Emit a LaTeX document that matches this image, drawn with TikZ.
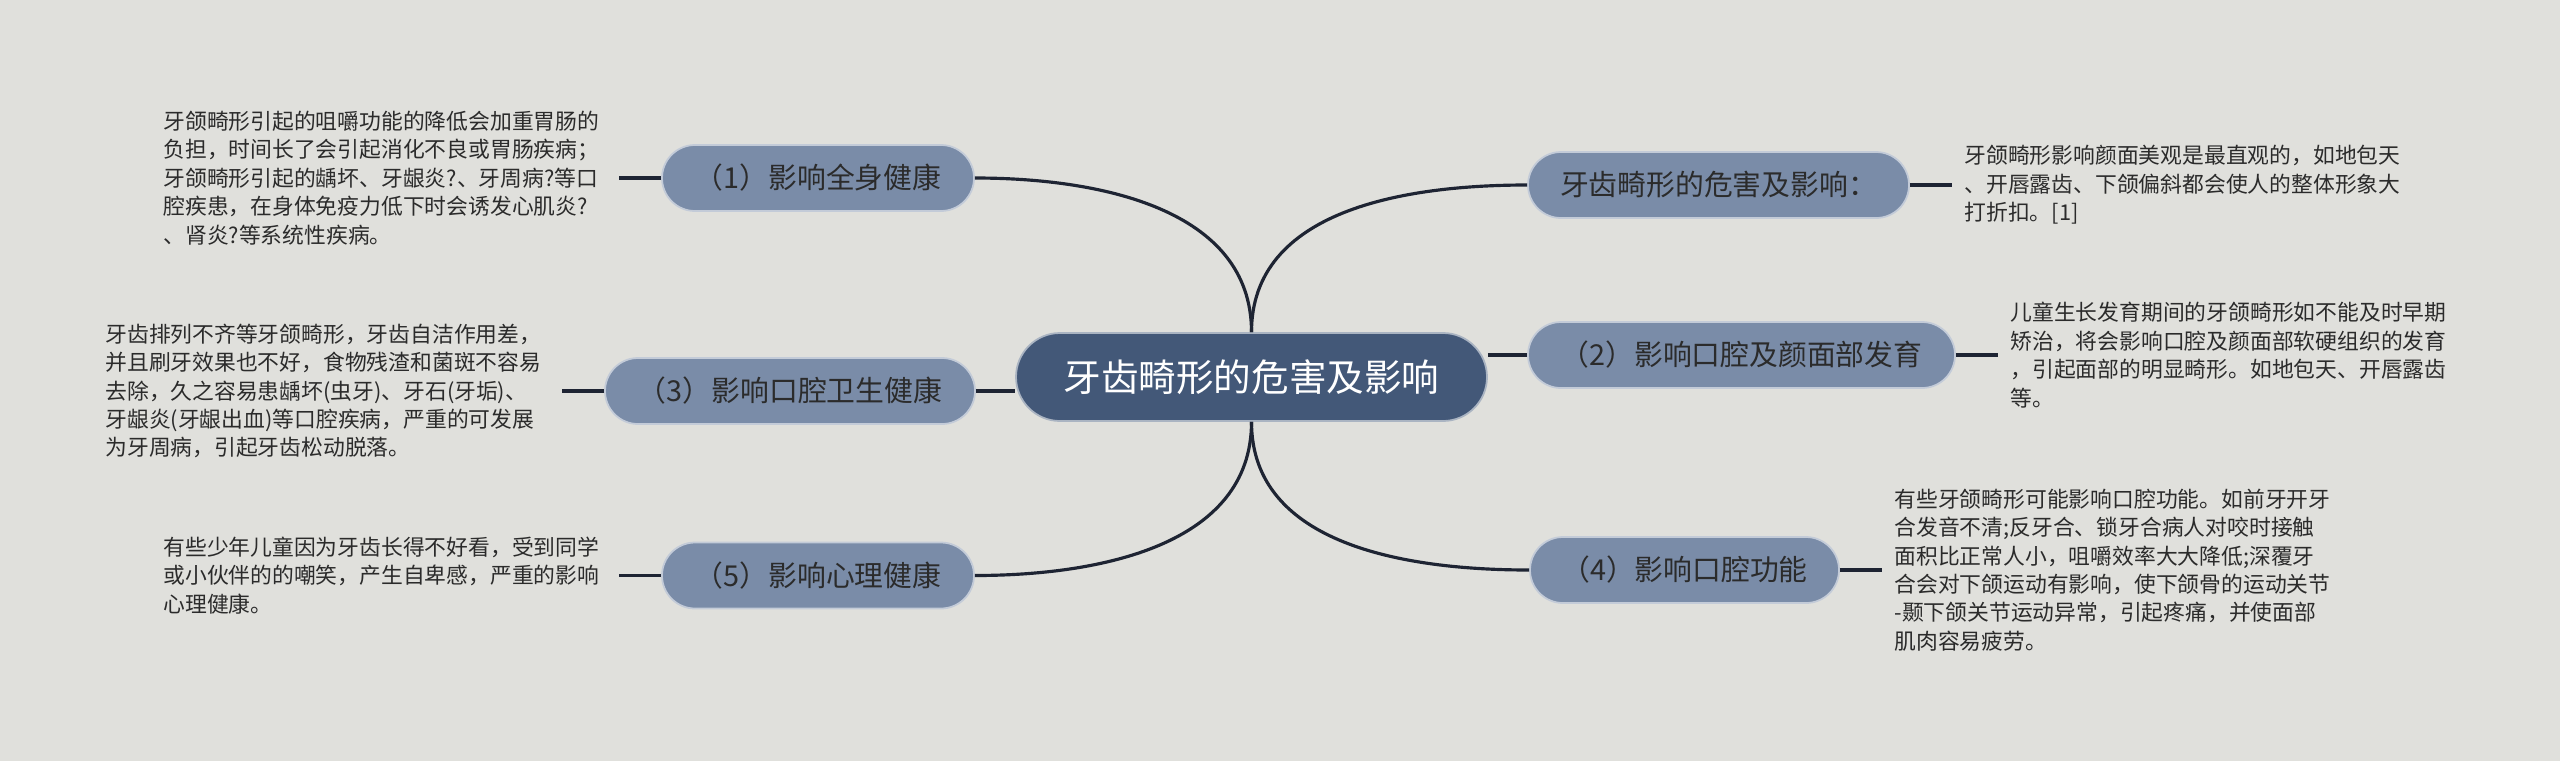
\documentclass[tikz,border=0pt]{standalone}
\usepackage{fontspec}
\setmainfont{Noto Sans CJK SC}
\usepackage{tikz}
\usetikzlibrary{positioning}
\setlength{\parindent}{0pt}
\definecolor{bgcol}{HTML}{E0E0DC}
\definecolor{maincol}{HTML}{435878}
\definecolor{subcol}{HTML}{7A8CA8}
\definecolor{linecol}{HTML}{1E2433}
\definecolor{txtcol}{HTML}{2B2B2B}
\tikzstyle{topic} = [rectangle, rounded corners=0.44cm, minimum width=4.71cm, minimum height=0.88cm, text centered, draw=white!55!maincol, line width=0.5pt, fill=maincol, text=white, font=\fontsize{10.7pt}{12pt}\selectfont]
\tikzstyle{branch} = [rectangle, rounded corners=0.33cm, minimum height=0.66cm, text centered, draw=white!55!subcol, line width=0.5pt, fill=subcol, text=txtcol, font=\fontsize{8.2pt}{10pt}\selectfont]
\tikzstyle{note} = [align=left, inner ysep=0pt, inner xsep=0.12cm, text=txtcol, font=\fontsize{6.2pt}{8.1pt}\selectfont]
\tikzstyle{link} = [line width=0.9pt, draw=linecol]

\begin{document}
\begin{tikzpicture}[node distance=0.42cm]

\fill [bgcol] (0,0) rectangle (25.6,7.61);
\useasboundingbox (0,0) rectangle (25.6,7.61);

% Topics
\node (c) [topic] at (12.515,3.84) {牙齿畸形的危害及影响};

\node (b1) [branch, minimum width=3.12cm] at (8.18,5.83) {（1）影响全身健康};
\node (b3) [branch, minimum width=3.70cm] at (7.90,3.70) {（3）影响口腔卫生健康};
\node (b5) [branch, minimum width=3.12cm] at (8.18,1.855) {（5）影响心理健康};

\node (bt) [branch, minimum width=3.81cm] at (17.185,5.76) {牙齿畸形的危害及影响：};
\node (b2) [branch, minimum width=4.27cm] at (17.415,4.06) {（2）影响口腔及颜面部发育};
\node (b4) [branch, minimum width=3.09cm] at (16.845,1.91) {（4）影响口腔功能};

% Notes
\node (n1) [note, text width=4.43cm, left=of b1] {
牙颌畸形引起的咀嚼功能的降低会加重胃肠的\\
负担，时间长了会引起消化不良或胃肠疾病；\\
牙颌畸形引起的龋坏、牙龈炎?、牙周病?等口\\
腔疾患，在身体免疫力低下时会诱发心肌炎?\\
、肾炎?等系统性疾病。
};

\node (n3) [note, text width=4.44cm, left=of b3] {
牙齿排列不齐等牙颌畸形，牙齿自洁作用差，\\
并且刷牙效果也不好，食物残渣和菌斑不容易\\
去除，久之容易患龋坏(虫牙)、牙石(牙垢)、\\
牙龈炎(牙龈出血)等口腔疾病，严重的可发展\\
为牙周病，引起牙齿松动脱落。
};

\node (n5) [note, text width=4.43cm, left=of b5] {
有些少年儿童因为牙齿长得不好看，受到同学\\
或小伙伴的的嘲笑，产生自卑感，严重的影响\\
心理健康。
};

\node (nt) [note, text width=4.8cm, right=of bt] {
牙颌畸形影响颜面美观是最直观的，如地包天\\
、开唇露齿、下颌偏斜都会使人的整体形象大\\
打折扣。[1]
};

\node (n2) [note, text width=4.8cm, right=of b2] {
儿童生长发育期间的牙颌畸形如不能及时早期\\
矫治，将会影响口腔及颜面部软硬组织的发育\\
，引起面部的明显畸形。如地包天、开唇露齿\\
等。
};

\node (n4) [note, text width=4.8cm, right=of b4] {
有些牙颌畸形可能影响口腔功能。如前牙开牙\\
合发音不清;反牙合、锁牙合病人对咬时接触\\
面积比正常人小，咀嚼效率大大降低;深覆牙\\
合会对下颌运动有影响，使下颌骨的运动关节\\
-颞下颌关节运动异常，引起疼痛，并使面部\\
肌肉容易疲劳。
};

% Links
\draw [link] (c.north) to[out=90, in=0] (b1.east);
\draw [link] (b3.east) -- (b3.east -| c.west);
\draw [link] (c.south) to[out=-90, in=0] (b5.east);
\draw [link] (c.north) to[out=90, in=180] (bt.west);
\draw [link] (c.east |- b2.west) -- (b2.west);
\draw [link] (c.south) to[out=-90, in=180] (b4.west);

\draw [link] (b1.west) -- (n1.east);
\draw [link] (b3.west) -- (n3.east);
\draw [link] (b5.west) -- (n5.east);
\draw [link] (bt.east) -- (nt.west);
\draw [link] (b2.east) -- (n2.west);
\draw [link] (b4.east) -- (n4.west);

\end{tikzpicture}
\end{document}
